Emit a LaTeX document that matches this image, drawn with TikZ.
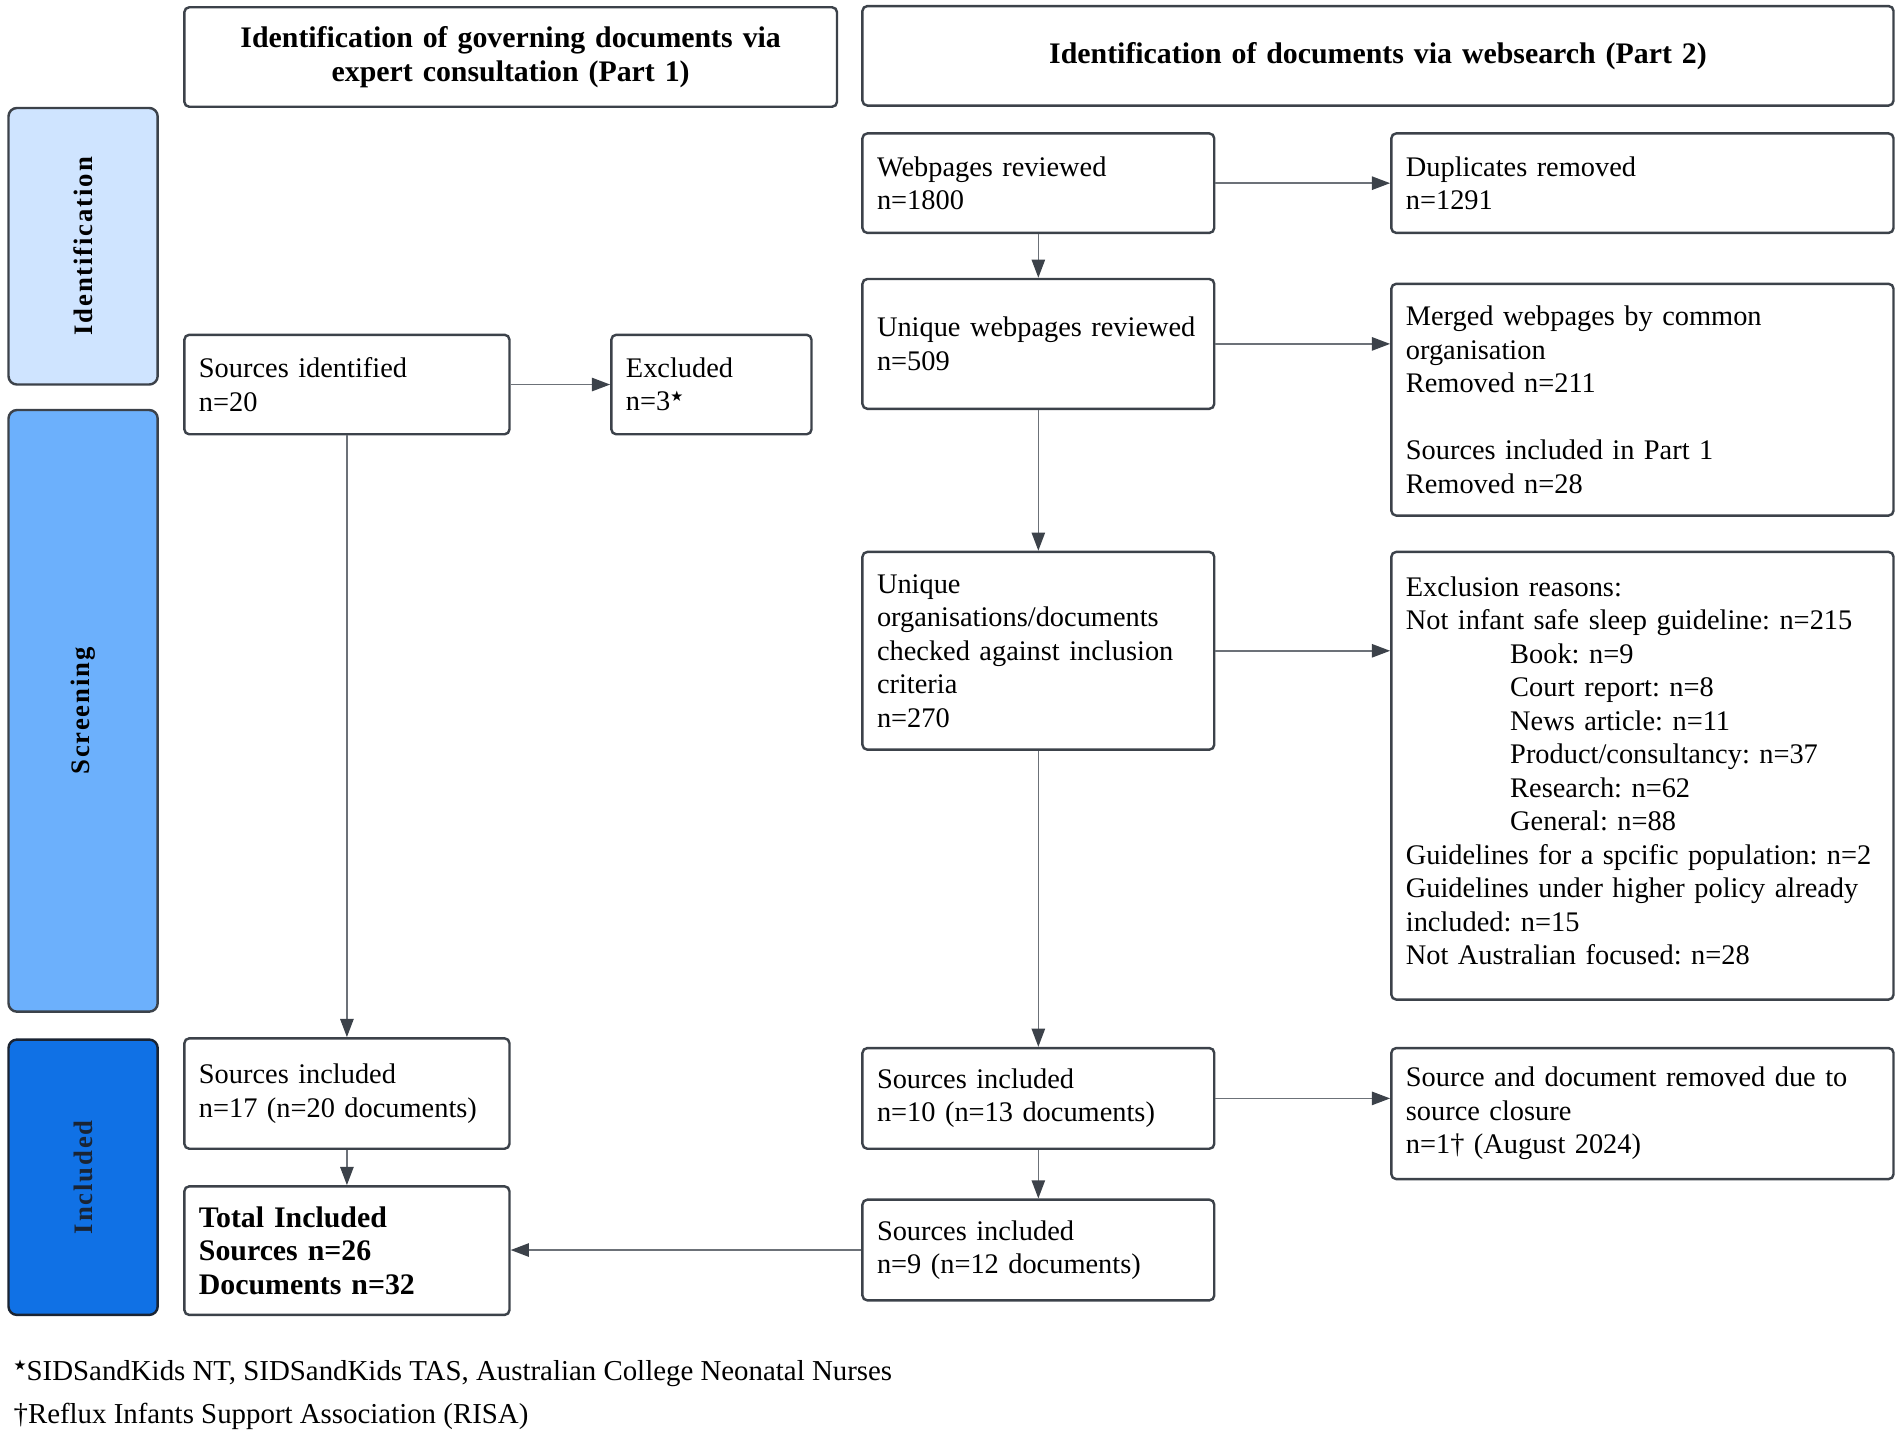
\documentclass[tikz,border=0pt]{standalone}
\usepackage{fontspec}
\setmainfont{Liberation Serif}
\newfontfamily\stagefont[LetterSpace=7]{Liberation Serif}
\newfontfamily\starfont{DejaVu Sans}
\usetikzlibrary{arrows.meta}
\definecolor{bordercol}{HTML}{3C424A}
\definecolor{linegray}{HTML}{6C7178}
\definecolor{arrowdark}{HTML}{3C424A}
\definecolor{idfill}{HTML}{CFE4FF}
\definecolor{scrfill}{HTML}{6CB0FC}
\definecolor{incfill}{HTML}{1071E5}
\definecolor{incborder}{HTML}{1A2433}
\newcommand\starmark{\raisebox{0.32em}{\starfont\fontsize{12}{12}\selectfont ★}}
\frenchspacing
\begin{document}
\frenchspacing
\begin{tikzpicture}[x=1pt,y=-1pt,
  box/.style={draw=bordercol, line width=2pt, rounded corners=4pt, fill=white,
    align=left, inner xsep=12pt, inner ysep=0pt,
    font=\fontsize{23.4}{27.6}\selectfont\frenchspacing},
  header/.style={box, align=center, font=\fontsize{24.6}{28}\selectfont\bfseries\frenchspacing},
  stage/.style={draw=bordercol, line width=2pt, rounded corners=7pt, rotate=90,
    inner sep=0pt, font=\stagefont\fontsize{22}{26}\selectfont\bfseries},
  arr/.style={draw=linegray, line width=1.3pt,
    -{Triangle[length=15pt,width=11pt,color=arrowdark]}},
  foot/.style={anchor=west, inner sep=0pt, font=\fontsize{23.8}{27.6}\selectfont\frenchspacing}]
\useasboundingbox (0,0) rectangle (1568,1187);

% stage bars
\node[stage, fill=idfill, minimum width=228pt, minimum height=123pt] (sid) at (68.5,203) {Identification};
\node[stage, fill=scrfill, minimum width=496pt, minimum height=123pt] (sscr) at (68.5,586) {Screening};
\node[stage, fill=incfill, draw=incborder, text=incborder, minimum width=227pt, minimum height=123pt] (sinc) at (68.5,970.5) {Included};

% headers
\node[header, text width=514pt, minimum height=82pt] (h1) at (421,47)
  {Identification of governing documents via\\ expert consultation (Part 1)};
\node[header, text width=826pt, minimum height=82pt] (h2) at (1136,46)
  {Identification of documents via websearch (Part 2)};

% Part 1
\node[box, text width=244pt, minimum height=82pt] (srcid) at (286,317)
  {Sources identified\\ n=20};
\node[box, text width=141pt, minimum height=82pt] (excl) at (586.5,317)
  {Excluded\\ n=3\starmark};
\node[box, text width=244pt, minimum height=91pt] (inc1) at (286,901.5)
  {Sources included\\ n=17 (n=20 documents)};
\node[box, text width=244pt, minimum height=106pt, font=\fontsize{24.6}{27.6}\selectfont\bfseries\frenchspacing] (total) at (286,1031)
  {Total Included\\ Sources n=26\\ Documents n=32};

% Part 2
\node[box, text width=266pt, minimum height=82pt] (web) at (856,151)
  {Webpages reviewed\\ n=1800};
\node[box, text width=390pt, minimum height=82pt] (dup) at (1354,151)
  {Duplicates removed\\ n=1291};
\node[box, text width=266pt, minimum height=107pt] (uniq) at (856,283.5)
  {Unique webpages reviewed\\ n=509};
\node[box, text width=390pt, minimum height=191pt] (merged) at (1354,329.5)
  {Merged webpages by common\\ organisation\\ Removed n=211\\[27.6pt] Sources included in Part 1\\ Removed n=28};
\node[box, text width=266pt, minimum height=163pt] (orgs) at (856,536.5)
  {Unique\\ organisations/documents\\ checked against inclusion\\ criteria\\ n=270};
\node[box, text width=390pt, minimum height=369pt] (exclr) at (1354,639.5)
  {Exclusion reasons:\\
   Not infant safe sleep guideline: n=215\\
   \hspace*{86pt}Book: n=9\\
   \hspace*{86pt}Court report: n=8\\
   \hspace*{86pt}News article: n=11\\
   \hspace*{86pt}Product/consultancy: n=37\\
   \hspace*{86pt}Research: n=62\\
   \hspace*{86pt}General: n=88\\
   Guidelines for a spcific population: n=2\\
   Guidelines under higher policy already\\
   included: n=15\\
   Not Australian focused: n=28\vspace*{8pt}};
\node[box, text width=266pt, minimum height=83pt] (inc10) at (856,905.5)
  {Sources included\\ n=10 (n=13 documents)};
\node[box, text width=390pt, minimum height=108pt] (srem) at (1354,918)
  {Source and document removed due to\\ source closure\\ n=1\textdagger{} (August 2024)};
\node[box, text width=266pt, minimum height=83pt] (inc9) at (856,1030.5)
  {Sources included\\ n=9 (n=12 documents)};

% connectors
\draw[arr] (srcid) -- (excl);
\draw[arr] (srcid) -- (inc1);
\draw[arr] (inc1) -- (total);
\draw[arr] (web) -- (dup);
\draw[arr] (web) -- (uniq);
\draw[arr] (uniq.east) -- (uniq.east -| merged.west);
\draw[arr] (uniq) -- (orgs);
\draw[arr] (orgs.east) -- (orgs.east -| exclr.west);
\draw[arr] (orgs) -- (inc10);
\draw[arr] (inc10.east) -- (inc10.east -| srem.west);
\draw[arr] (inc10) -- (inc9);
\draw[arr] (inc9.west) -- (inc9.west -| total.east);

% footnotes
\node[foot] (fn1) at (11,1132) {\starmark SIDSandKids NT, SIDSandKids TAS, Australian College Neonatal Nurses};
\node[foot] (fn2) at (11,1168) {\textdagger Reflux Infants Support Association (RISA)};
\end{tikzpicture}
\end{document}
